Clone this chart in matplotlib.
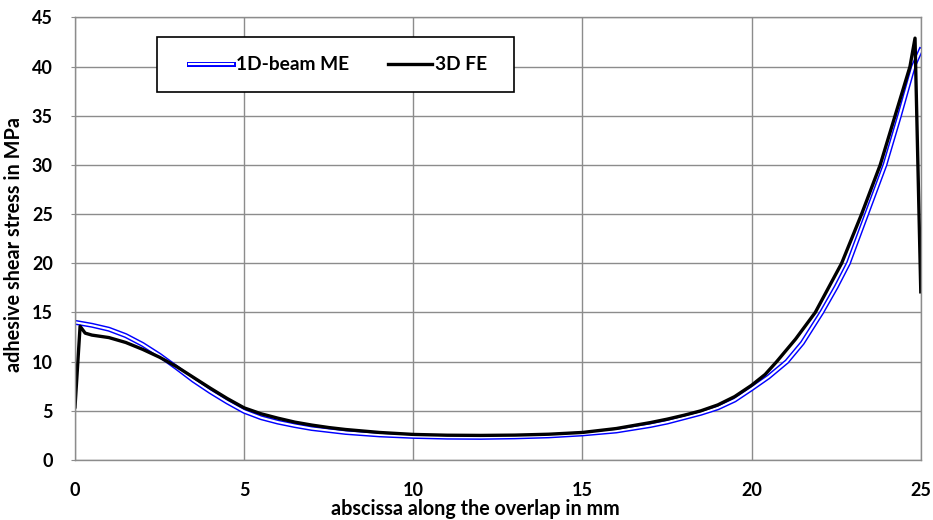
import matplotlib
matplotlib.use("Agg")
import matplotlib.pyplot as plt
import matplotlib.patheffects as pe
from matplotlib.patches import Rectangle

plt.rcParams['font.family'] = ['Lato', 'DejaVu Sans']
plt.rcParams['font.weight'] = 'bold'

# 1D-beam ME (blue double line)
x_me = [0, 0.5, 1, 1.5, 2, 2.5, 3, 3.5, 4, 4.5, 5, 5.5, 6, 6.5, 7, 7.5, 8, 9, 10, 11, 12,
        13, 14, 15, 16, 17, 17.5, 18, 18.5, 19, 19.5, 20, 20.5, 21.04, 21.5, 22.07, 22.5,
        22.86, 23.4, 23.94, 24.37, 24.78, 25]
y_me = [14.0, 13.7, 13.3, 12.65, 11.75, 10.65, 9.4, 8.1, 6.95, 5.9, 4.95, 4.3, 3.85, 3.5,
        3.2, 3.0, 2.8, 2.55, 2.4, 2.32, 2.3, 2.35, 2.45, 2.65, 2.95, 3.5, 3.85, 4.3, 4.75,
        5.3, 6.1, 7.25, 8.45, 10.0, 11.9, 15.0, 17.6, 20.0, 25.0, 30.0, 35.0, 40.0, 41.7]

# 3D FE (black)
x_fe = [0, 0.15, 0.3, 0.5, 1, 1.5, 2, 2.5, 3, 3.5, 4, 4.5, 5, 5.5, 6, 6.5, 7, 7.5, 8, 9,
        10, 11, 12, 13, 14, 15, 16, 17, 17.5, 18, 18.5, 19, 19.5, 20, 20.4, 20.74, 21.3,
        21.88, 22.66, 23.25, 23.8, 24.24, 24.68, 24.83, 25]
y_fe = [5.4, 13.6, 12.9, 12.7, 12.45, 11.95, 11.25, 10.45, 9.5, 8.4, 7.3, 6.25, 5.3, 4.7,
        4.25, 3.85, 3.55, 3.3, 3.1, 2.8, 2.6, 2.52, 2.5, 2.53, 2.62, 2.8, 3.2, 3.8, 4.15,
        4.55, 5.0, 5.6, 6.45, 7.6, 8.7, 10.0, 12.3, 15.0, 20.0, 25.0, 30.0, 35.0, 40.0,
        42.9, 17.1]

xticks = [0, 5, 10, 15, 20, 25]
yticks = [0, 5, 10, 15, 20, 25, 30, 35, 40, 45]

fig = plt.figure(figsize=(9.33, 5.2), dpi=100)
ax = fig.add_axes([0.0804, 0.1154, 0.9065, 0.851])

grid_c = '#8c8c8c'
ax.grid(True, color=grid_c, linewidth=1.0)
ax.set_axisbelow(True)

# double blue line: white core with a blue stroke round it
me_line, = ax.plot(x_me, y_me, color='white', lw=1.5, solid_joinstyle='round',
                   path_effects=[pe.Stroke(linewidth=3.6, foreground='#0000ff'), pe.Normal()])
fe_line, = ax.plot(x_fe, y_fe, color='black', lw=2.4, solid_joinstyle='round')

ax.set_xlim(0, 25)
ax.set_ylim(0, 45)
ax.set_xticks(xticks)
ax.set_yticks(yticks)
for s in ax.spines.values():
    s.set_color(grid_c)
    s.set_linewidth(1.0)
ax.tick_params(axis='x', length=0, pad=16, labelsize=13)
ax.tick_params(axis='y', length=3, color=grid_c, pad=13, labelsize=13)

ax.set_xlabel('abscissa along the overlap in mm', fontsize=14.2, fontweight='bold')
ax.xaxis.set_label_coords(0.473, -0.088)
ax.set_ylabel('adhesive shear stress in MPa', fontsize=14.3, fontweight='bold')
ax.yaxis.set_label_coords(-0.06, 0.486)

# legend frame
ax.add_patch(Rectangle((0.097, 0.831), 0.4215, 0.124, transform=ax.transAxes,
                       facecolor='white', edgecolor='black', lw=1.2, zorder=5))
leg = ax.legend([me_line, fe_line], ['1D-beam ME', '3D FE'],
                loc='center', bbox_to_anchor=(0.311, 0.893), ncol=2,
                frameon=False, fontsize=13.8, handlelength=2.3, handletextpad=0.15,
                columnspacing=2.0, borderpad=0, borderaxespad=0)
leg.set_zorder(6)

fig.savefig('out.png', dpi=100)
